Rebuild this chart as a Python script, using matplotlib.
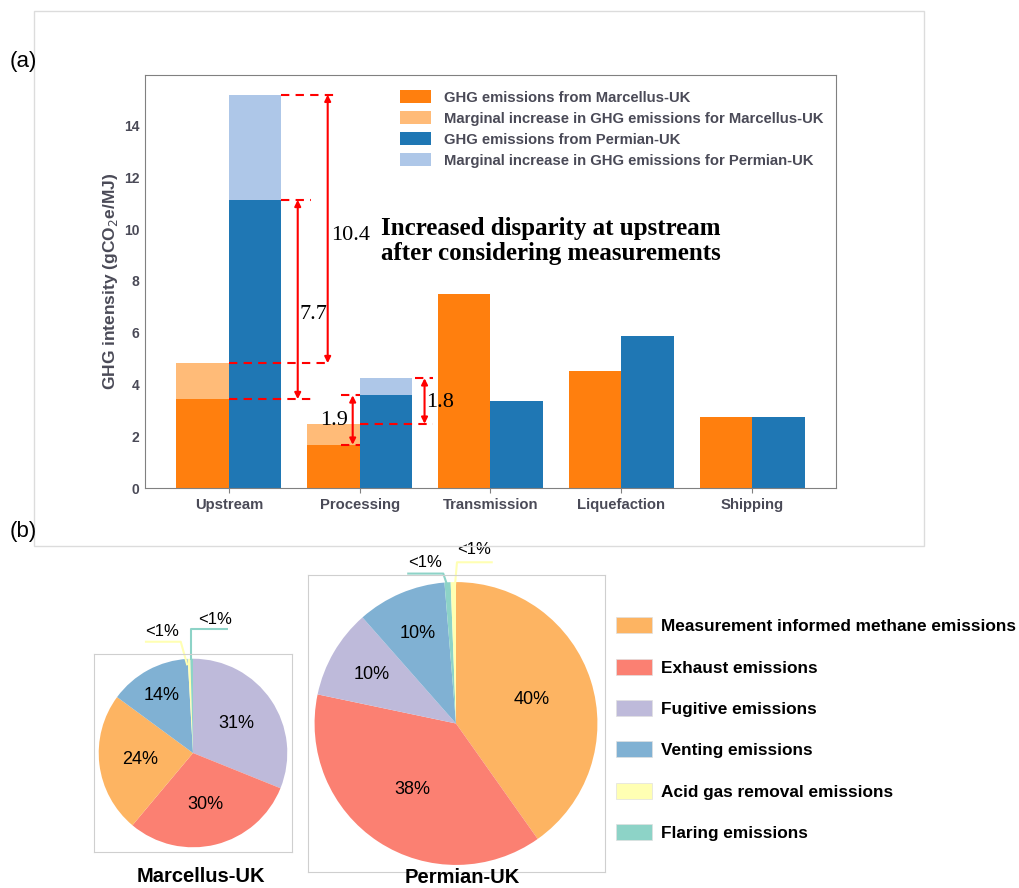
import matplotlib.pyplot as plt
import numpy as np
from matplotlib.patches import Patch, Rectangle

# ---- data (a) ----
stages = ['Upstream', 'Processing', 'Transmission', 'Liquefaction', 'Shipping']
marcellus_base = [3.43, 1.67, 7.48, 4.53, 2.73]
marcellus_extra = [1.39, 0.81, 0.0, 0.0, 0.0]
permian_base = [11.13, 3.58, 3.36, 5.87, 2.73]
permian_extra = [4.06, 0.66, 0.0, 0.0, 0.0]

# ---- data (b) ----
src_names = ['Measurement informed methane emissions', 'Exhaust emissions',
             'Fugitive emissions', 'Venting emissions',
             'Acid gas removal emissions', 'Flaring emissions']
src_colors = ['#fdb462', '#fb8072', '#bebada', '#80b1d3', '#ffffb3', '#8dd3c7']
# wedge order, clockwise from 12 o'clock
marc_order = [2, 1, 0, 3, 4, 5]
marc_share = [31.1, 30.0, 24.0, 14.0, 0.45, 0.45]
marc_text = ['31%', '30%', '24%', '14%', '<1%', '<1%']
perm_order = [0, 1, 2, 3, 5, 4]
perm_share = [40.2, 38.1, 10.2, 10.2, 0.7, 0.6]
perm_text = ['40%', '38%', '10%', '10%', '<1%', '<1%']

W, H = 1019, 888
fig = plt.figure(figsize=(W / 100, H / 100), dpi=100)


def box(x0, y0, x1, y1):
    return [x0 / W, 1 - y1 / H, (x1 - x0) / W, (y1 - y0) / H]


gray = '#4a4a57'
serif = 'Liberation Serif'
sans = 'Liberation Sans'

# frame around panel (a)
fig.patches.append(Rectangle((34 / W, 1 - 546 / H), 890 / W, 535 / H, transform=fig.transFigure,
                             fill=False, edgecolor='#dcdcdc', lw=1))
fig.text(10 / W, 1 - 62 / H, '(a)', fontsize=16, family=sans, va='center')
fig.text(10 / W, 1 - 532 / H, '(b)', fontsize=16, family=sans, va='center')

# ---- bar chart ----
ax = fig.add_axes(box(145, 75, 836, 488))
x = np.arange(len(stages))
w = 0.4
ax.bar(x - w / 2, marcellus_base, w, color='#ff7f0e', label='GHG emissions from Marcellus-UK')
ax.bar(x - w / 2, marcellus_extra, w, bottom=marcellus_base, color='#ffbb78',
       label='Marginal increase in GHG emissions for Marcellus-UK')
ax.bar(x + w / 2, permian_base, w, color='#1f77b4', label='GHG emissions from Permian-UK')
ax.bar(x + w / 2, permian_extra, w, bottom=permian_base, color='#aec7e8',
       label='Marginal increase in GHG emissions for Permian-UK')
ax.set_xticks(x)
ax.set_xticklabels(stages, fontsize=10.7, fontweight='bold', color=gray, family=sans)
ax.set_yticks(range(0, 15, 2))
for t in ax.get_yticklabels():
    t.set_fontsize(10)
    t.set_fontweight('bold')
    t.set_color(gray)
    t.set_family(sans)
ax.set_ylabel('GHG intensity (gCO$_2$e/MJ)', fontsize=12.5, fontweight='bold', color=gray,
              family=sans, labelpad=3)
ax.tick_params(colors='#808080', labelcolor=gray)
ax.tick_params(axis='y', length=0, pad=4)
for s in ax.spines.values():
    s.set_color('#808080')
ax.legend(loc='upper left', bbox_to_anchor=(0.35, 0.995), frameon=False,
          prop={'family': sans, 'weight': 'bold', 'size': 10.7}, labelcolor=gray,
          handlelength=2.1, handleheight=0.9, labelspacing=0.45, handletextpad=0.85)

m_top = [b + e for b, e in zip(marcellus_base, marcellus_extra)]
p_top = [b + e for b, e in zip(permian_base, permian_extra)]
dash = dict(color='red', ls=(0, (4, 3)), lw=1.5)


def arrow(xp, y0, y1):
    ax.annotate('', xy=(xp, y1), xytext=(xp, y0),
                arrowprops=dict(arrowstyle='<|-|>', color='red', lw=1.5,
                                mutation_scale=9, shrinkA=0, shrinkB=0))


# upstream
ax.plot([0.4, 0.83], [p_top[0]] * 2, **dash)
ax.plot([0.4, 0.63], [permian_base[0]] * 2, **dash)
ax.plot([0.0, 0.76], [m_top[0]] * 2, **dash)
ax.plot([0.0, 0.63], [marcellus_base[0]] * 2, **dash)
arrow(0.756, m_top[0], p_top[0])
arrow(0.527, marcellus_base[0], permian_base[0])
ax.text(0.78, 9.75, f'{p_top[0] - m_top[0]:.1f}', family=serif, fontsize=16, va='center')
ax.text(0.54, 6.7, f'{permian_base[0] - marcellus_base[0]:.1f}', family=serif, fontsize=16, va='center')
# processing
ax.plot([0.86, 1.0], [permian_base[1]] * 2, **dash)
ax.plot([0.86, 1.0], [marcellus_base[1]] * 2, **dash)
arrow(0.947, marcellus_base[1], permian_base[1])
ax.text(0.70, 2.6, f'{permian_base[1] - marcellus_base[1]:.1f}', family=serif, fontsize=16, va='center')
ax.plot([1.0, 1.56], [m_top[1]] * 2, **dash)
ax.plot([1.42, 1.56], [p_top[1]] * 2, **dash)
arrow(1.496, m_top[1], p_top[1])
ax.text(1.51, 3.3, f'{p_top[1] - m_top[1]:.1f}', family=serif, fontsize=16, va='center')
ax.text(1.165, 9.55, 'Increased disparity at upstream\nafter considering measurements',
        family=serif, fontsize=18, fontweight='bold', va='center', linespacing=1.1)


# ---- pies ----
def pie(rect, order, share, text, title, title_xy, leaders):
    pa = fig.add_axes(rect)
    wedges, _ = pa.pie(share, colors=[src_colors[i] for i in order], startangle=90,
                       counterclock=False, radius=1, wedgeprops=dict(linewidth=0))
    pa.set_xlim(-1.05, 1.05)
    pa.set_ylim(-1.05, 1.05)
    pa.set_aspect('equal')
    pa.set_frame_on(True)
    pa.set_xticks([])
    pa.set_yticks([])
    for s in pa.spines.values():
        s.set_color('#cfcfcf')
    for wdg, s, t in zip(wedges, share, text):
        if t.startswith('<'):
            continue
        a = np.deg2rad((wdg.theta1 + wdg.theta2) / 2)
        r = 0.56 if s > 20 else 0.69
        pa.text(r * np.cos(a), r * np.sin(a), t, ha='center', va='center',
                fontsize=13, family=sans)
    for k, (pts, tpos) in leaders.items():
        wdg = wedges[k]
        xs, ys = zip(*pts)
        pa.plot(xs, ys, color=wdg.get_facecolor(), lw=1.5, clip_on=False,
                solid_capstyle='butt')
        pa.text(*tpos, text[k], ha='center', va='center', fontsize=12, family=sans)
    fig.text(title_xy[0] / W, 1 - title_xy[1] / H, title, ha='center', va='center',
             fontsize=14.5, fontweight='bold', family=sans)
    return pa


pie(box(94, 654, 292, 852), marc_order, marc_share, marc_text, 'Marcellus-UK', (201, 876),
    {4: ([(-0.06, 0.93), (-0.13, 1.18), (-0.51, 1.18)], (-0.33, 1.29)),
     5: ([(-0.02, 0.99), (-0.02, 1.31), (0.37, 1.31)], (0.23, 1.42))})
pie(box(307, 575, 605, 872), perm_order, perm_share, perm_text, 'Permian-UK', (462, 877),
    {4: ([(-0.063, 0.98), (-0.09, 1.06), (-0.345, 1.06)], (-0.22, 1.14)),
     5: ([(-0.007, 0.98), (0.007, 1.14), (0.26, 1.14)], (0.13, 1.23))})

handles = [Patch(facecolor=c, edgecolor='#e0e0e0', lw=0.5) for c in src_colors]
fig.legend(handles, src_names, loc='upper left', bbox_to_anchor=(600 / W, 1 - 602 / H),
           frameon=False, prop={'family': sans, 'weight': 'bold', 'size': 12.4},
           handlelength=2.1, handleheight=1.05, labelspacing=1.42, handletextpad=0.55)

fig.savefig('out.png', dpi=100)
